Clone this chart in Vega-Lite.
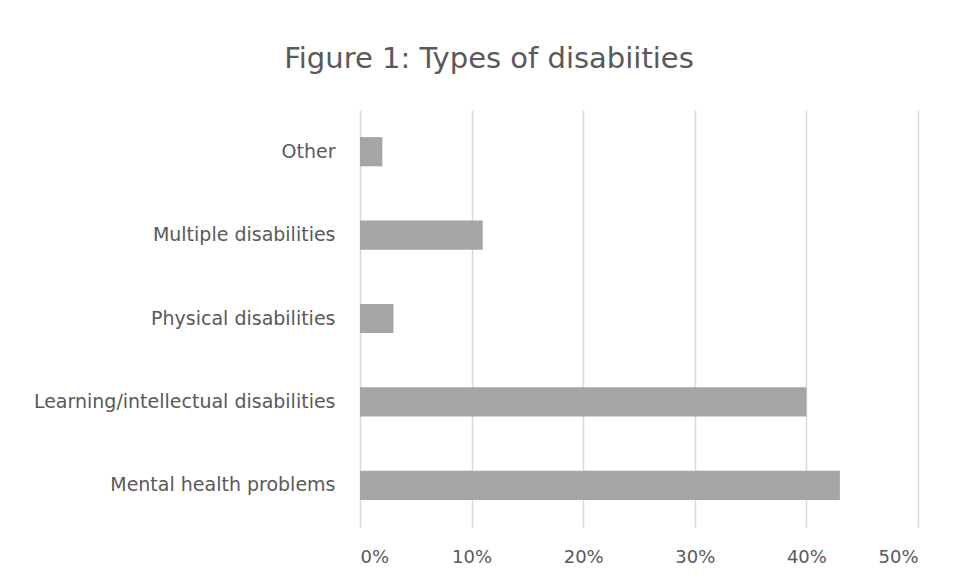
{
  "$schema": "https://vega.github.io/schema/vega-lite/v6.json",
  "width": 558,
  "height": 417,
  "autosize": "none",
  "padding": {"left": 360, "top": 110, "right": 39, "bottom": 54},
  "background": "white",
  "title": {
    "text": "Figure 1: Types of disabiities",
    "anchor": "middle",
    "frame": "group",
    "dx": -150,
    "dy": 29,
    "offset": 42,
    "baseline": "alphabetic",
    "font": "DejaVu Sans",
    "fontSize": 29,
    "fontWeight": "normal",
    "color": "#595959"
  },
  "data": {
    "values": [
      {"type": "Other", "share": 0.02},
      {"type": "Multiple disabilities", "share": 0.11},
      {"type": "Physical disabilities", "share": 0.03},
      {"type": "Learning/intellectual disabilities", "share": 0.40},
      {"type": "Mental health problems", "share": 0.43}
    ]
  },
  "mark": {"type": "bar", "color": "#a5a5a5"},
  "encoding": {
    "y": {
      "field": "type",
      "type": "nominal",
      "sort": null,
      "title": null,
      "scale": {"paddingInner": 0.65, "paddingOuter": 0.325},
      "axis": {
        "domain": false,
        "ticks": false,
        "labelPadding": 25,
        "labelFont": "DejaVu Sans",
        "labelFontSize": 19,
        "labelColor": "#595959",
        "labelLimit": 400
      }
    },
    "x": {
      "field": "share",
      "type": "quantitative",
      "title": null,
      "scale": {"domain": [0, 0.5], "nice": false},
      "axis": {
        "values": [0, 0.1, 0.2, 0.3, 0.4, 0.5],
        "format": ".0%",
        "domain": false,
        "ticks": false,
        "grid": true,
        "gridColor": "#d9d9d9",
        "gridWidth": 1.5,
        "labelPadding": 21,
        "labelFont": "DejaVu Sans",
        "labelFontSize": 18,
        "labelColor": "#595959"
      }
    }
  },
  "config": {"view": {"stroke": null}}
}
